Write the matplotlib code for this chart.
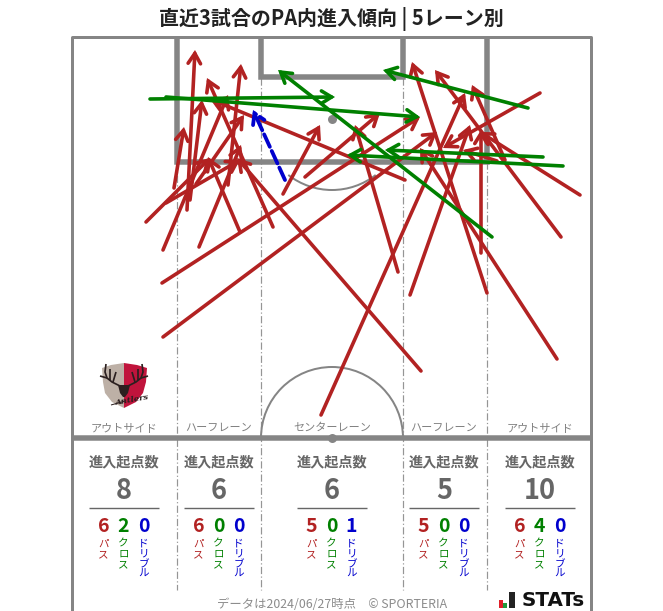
import matplotlib
matplotlib.use('Agg')
import matplotlib.pyplot as plt
from matplotlib.patches import Arc, Polygon, Rectangle

plt.rcParams['font.family'] = ['Noto Sans CJK JP', 'DejaVu Sans']

TITLE = '直近3試合のPA内進入傾向 | 5レーン別'
FOOTER = 'データは2024/06/27時点　© SPORTERIA'
lane_names = ['アウトサイド', 'ハーフレーン', 'センターレーン', 'ハーフレーン', 'アウトサイド']
lane_centers = [124, 219, 332, 444, 540]
total_counts = [8, 6, 6, 5, 10]
pass_counts = [6, 6, 5, 5, 6]
cross_counts = [2, 0, 0, 0, 4]
dribble_counts = [0, 0, 1, 0, 0]

pass_x0 = [146, 166, 174, 163, 162, 163, 187, 190, 196, 199, 240, 228, 273, 283, 305, 321, 398,
           421, 405, 410, 487, 481, 557, 561, 580, 540, 505, 497]
pass_y0 = [222, 203, 188, 250, 283, 337, 210, 200, 184, 247, 232, 185, 227, 194, 177, 415, 272,
           371, 180, 295, 293, 253, 359, 237, 195, 93, 160, 161]
pass_x1 = [210, 240, 184, 228, 420, 437, 195, 202, 244, 241, 208, 241, 207, 320, 380, 465, 355,
           237, 210, 470, 412, 481, 420, 435, 480, 443, 472, 463]
pass_y1 = [158, 160, 127, 95, 117, 132, 50, 100, 115, 145, 157, 64, 78, 125, 113, 93, 125,
           158, 99, 125, 62, 130, 148, 70, 132, 148, 85, 150]

cross_x0 = [150, 166, 528, 543, 563, 492]
cross_y0 = [99, 97, 108, 157, 166, 237]
cross_x1 = [335, 420, 383, 385, 347, 278]
cross_y1 = [97, 117, 70, 150, 155, 70]

dribble_x0 = [285]
dribble_y0 = [180]
dribble_x1 = [253]
dribble_y1 = [110]

GREY = '#858585'
TXT = '#666666'
RED = '#B22222'
GREEN = '#008000'
BLUE = '#0000CD'

fig = plt.figure(figsize=(6.63, 6.11), dpi=100)
ax = fig.add_axes([0, 0, 1, 1])
ax.set_xlim(0, 663)
ax.set_ylim(611, 0)
ax.axis('off')

px = 0.72  # one pixel in points


def line(xs, ys, w, c=GREY, **k):
    ax.plot(xs, ys, color=c, lw=w * px, solid_capstyle=k.pop('cap', 'butt'), **k)


# frame
line([72, 72, 591, 591], [611, 37, 37, 611], 3)
# lanes
dash = dict(ls=(0, (6, 2, 1, 2)), zorder=1)
line([177, 177], [162, 590], 1.2, '#959595', **dash)
line([261, 261], [78, 590], 1.2, '#959595', **dash)
line([403, 403], [78, 590], 1.2, '#959595', **dash)
line([487, 487], [162, 590], 1.2, '#959595', **dash)
# boxes
line([177, 177, 487, 487], [37, 162, 162, 37], 5.5, solid_joinstyle='miter')
line([261, 261, 403, 403], [37, 77, 77, 37], 5.5, solid_joinstyle='miter')
line([72, 591], [438, 438], 5.5)
# arcs
ax.add_patch(Arc((332, 119), 142, 142, theta1=52, theta2=128, color=GREY, lw=2 * px))
ax.add_patch(Arc((332, 438), 142, 142, theta1=180, theta2=360, color=GREY, lw=2 * px))
ax.plot([332, 332], [119, 438], ls='none', marker='o', ms=9 * px, color=GREY, mew=0)


def arrows(x0, y0, x1, y1, color, z, w=3.6, ls='-'):
    for a, b, c, d in zip(x0, y0, x1, y1):
        ax.annotate('', xy=(c, d), xytext=(a, b), zorder=z,
                    arrowprops=dict(arrowstyle='->,head_length=0.52,head_width=0.32',
                                    mutation_scale=14, color=color, lw=w * px, ls=ls,
                                    shrinkA=0, shrinkB=0, capstyle='round', joinstyle='miter'))


arrows(pass_x0, pass_y0, pass_x1, pass_y1, RED, 3)
arrows(cross_x0, cross_y0, cross_x1, cross_y1, GREEN, 4)
arrows(dribble_x0, dribble_y0, dribble_x1, dribble_y1, BLUE, 5, w=3.8, ls=(0, (3.6, 1.2)))

# title & footer
ax.text(331, 19, TITLE, ha='center', va='center', fontsize=14.4, fontweight='bold', color='#222222')
ax.text(332, 604, FOOTER, ha='center', va='center', fontsize=8.9, color='#8c8c8c')

for i, cx in enumerate(lane_centers):
    ax.text(cx, 428, lane_names[i], ha='center', va='center', fontsize=8, color='#808080')
    ax.text(cx - 0.5, 462, '進入起点数', ha='center', va='center', fontsize=10.2, fontweight='bold', color=TXT)
    ax.text(cx, 491, str(total_counts[i]), ha='center', va='center', fontsize=19.5, fontweight='bold', color=TXT)
    line([cx - 35, cx + 35], [508, 508], 1.4, '#666666')
    groups = [(pass_counts[i], 'パス', RED), (cross_counts[i], 'クロス', GREEN), (dribble_counts[i], 'ドリブル', BLUE)]
    for j, (n, lab, col) in enumerate(groups):
        gx = cx + (j - 1) * 20 - 0.5
        ax.text(gx, 526, str(n), ha='center', va='center', fontsize=14, fontweight='bold', color=col)
        ax.text(gx, 539, '\n'.join(lab), ha='center', va='top', fontsize=7.6, color=col, linespacing=1.0)

# crest
ax.add_patch(Polygon([(102, 368), (111, 365), (124, 363), (124, 408), (112, 402), (105, 393), (103, 382)],
                     closed=True, fc='#BDB0A6', ec='none', zorder=2))
ax.add_patch(Polygon([(124, 363), (137, 365), (147, 368), (146, 382), (143, 393), (136, 402), (124, 408)],
                     closed=True, fc='#C0143C', ec='none', zorder=2))
for xs, ys in [([120, 112, 107, 105, 106], [386, 382, 378, 372, 364]), ([107, 100], [378, 376]),
               ([110, 110], [380, 369]), ([113, 116], [382, 372]),
               ([128, 136, 141, 143, 142], [386, 382, 378, 372, 364]), ([141, 148], [378, 376]),
               ([138, 138], [380, 369]), ([135, 132], [382, 372])]:
    line(xs, ys, 1.7, '#2b1f1f', zorder=3)
ax.add_patch(Polygon([(118, 385), (130, 385), (128, 393), (125, 397), (123, 397), (120, 393)],
                     closed=True, fc='#2b1f1f', ec='none', zorder=3))
line([111, 125], [405, 401], 1, '#2b1f1f', zorder=3)
ax.text(132, 400, 'Antlers', ha='center', va='center', fontsize=6, style='italic', fontweight='bold',
        color='#2b1f1f', rotation=10, family=['DejaVu Serif'], zorder=4)

# STATs logo
for x, h, w, c in [(499, 8, 4, '#E0202A'), (503, 5, 4, '#1E9A3C'), (509, 16, 6, '#222222')]:
    ax.add_patch(Rectangle((x, 608 - h), w, h, fc=c, ec='none', zorder=3))
ax.text(522, 600, 'STATs', ha='left', va='center', fontsize=14.3, fontweight='bold', color='#111111',
        family=['DejaVu Sans'])

fig.savefig('out.png', dpi=100)
